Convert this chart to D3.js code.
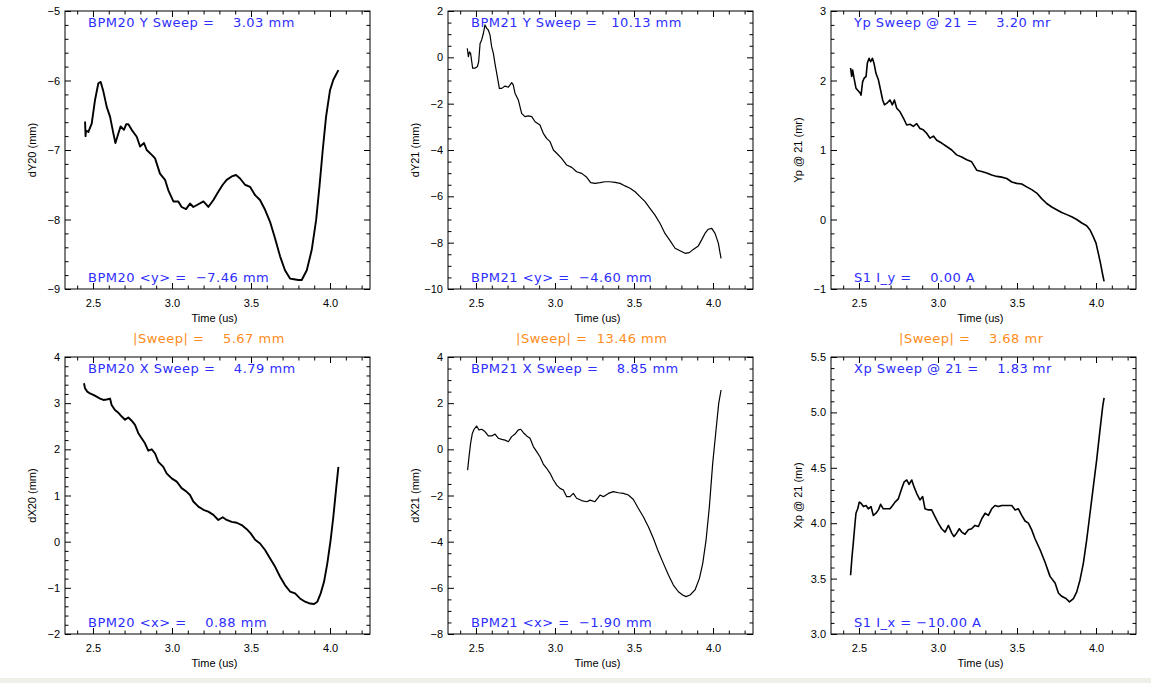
<!DOCTYPE html>
<html><head><meta charset="utf-8">
<script src="https://cdn.jsdelivr.net/npm/d3@7"></script>
<style>
body{margin:0;background:#fff}
svg{display:block}
</style>
</head><body><svg id="chart" width="1151" height="683"></svg>
<script>
// ---------------- data ----------------
const timeDomain = [2.323, 4.253];
const timeTicks = [2.5, 3.0, 3.5, 4.0];
const timeLabel = "Time (us)";

const yLabels = ["dY20 (mm)", "dY21 (mm)", "Yp @ 21 (mr)", "dX20 (mm)", "dX21 (mm)", "Xp @ 21 (mr)"];
const yDomains = [[-9, -5], [-10, 2], [-1, 3], [-2, 4], [-8, 4], [3, 5.5]];
const yMajorStep = [1, 2, 1, 1, 2, 0.5];
const yMinorStep = [0.2, 0.5, 0.2, 0.2, 0.5, 0.1];
const yTickFormat = ["d", "d", "d", "d", "d", ".1f"];

const topNotes = [
  "BPM20 Y Sweep =    3.03 mm",
  "BPM21 Y Sweep =   10.13 mm",
  "Yp Sweep @ 21 =    3.20 mr",
  "BPM20 X Sweep =    4.79 mm",
  "BPM21 X Sweep =    8.85 mm",
  "Xp Sweep @ 21 =    1.83 mr"
];
const bottomNotes = [
  "BPM20 <y> =  \u22127.46 mm",
  "BPM21 <y> =  \u22124.60 mm",
  "S1 I_y =    0.00 A",
  "BPM20 <x> =    0.88 mm",
  "BPM21 <x> =  \u22121.90 mm",
  "S1 I_x = \u221210.00 A"
];
const sweepNotes = ["|Sweep| =    5.67 mm", "|Sweep| =  13.46 mm", "|Sweep| =    3.68 mr"];

const dY20 = [[2.450,-6.59],[2.453,-6.80],[2.456,-6.72],[2.471,-6.74],[2.492,-6.62],[2.513,-6.28],[2.534,-6.04],[2.549,-6.02],[2.566,-6.16],[2.587,-6.38],[2.608,-6.52],[2.629,-6.76],[2.642,-6.90],[2.661,-6.76],[2.675,-6.66],[2.696,-6.71],[2.710,-6.63],[2.724,-6.63],[2.745,-6.71],[2.777,-6.81],[2.798,-6.95],[2.823,-6.90],[2.840,-7.00],[2.872,-7.07],[2.893,-7.12],[2.924,-7.34],[2.956,-7.43],[2.977,-7.58],[3.009,-7.74],[3.040,-7.74],[3.061,-7.82],[3.089,-7.85],[3.114,-7.77],[3.135,-7.82],[3.167,-7.78],[3.199,-7.74],[3.230,-7.82],[3.262,-7.72],[3.293,-7.60],[3.321,-7.50],[3.346,-7.43],[3.378,-7.38],[3.405,-7.36],[3.431,-7.41],[3.462,-7.50],[3.494,-7.53],[3.526,-7.65],[3.557,-7.72],[3.589,-7.86],[3.620,-8.03],[3.652,-8.27],[3.684,-8.53],[3.715,-8.73],[3.747,-8.85],[3.772,-8.86],[3.800,-8.87],[3.821,-8.87],[3.853,-8.73],[3.884,-8.44],[3.912,-8.01],[3.933,-7.53],[3.954,-7.00],[3.975,-6.52],[4.000,-6.14],[4.021,-5.99],[4.053,-5.85]];

const dY21 = [[2.445,0.39],[2.452,0.03],[2.459,0.24],[2.466,0.17],[2.479,-0.47],[2.494,-0.47],[2.509,-0.40],[2.517,-0.19],[2.526,0.60],[2.536,0.75],[2.547,1.04],[2.557,1.40],[2.568,1.25],[2.578,1.18],[2.589,0.96],[2.599,0.46],[2.610,0.17],[2.620,-0.26],[2.635,-0.83],[2.648,-1.34],[2.663,-1.34],[2.684,-1.24],[2.705,-1.29],[2.726,-1.09],[2.736,-1.19],[2.747,-1.55],[2.768,-1.84],[2.789,-2.42],[2.810,-2.56],[2.831,-2.53],[2.853,-2.56],[2.874,-2.78],[2.905,-2.92],[2.926,-3.28],[2.947,-3.50],[2.969,-3.64],[2.990,-4.00],[3.011,-4.14],[3.042,-4.36],[3.074,-4.65],[3.106,-4.75],[3.137,-4.94],[3.169,-5.01],[3.201,-5.18],[3.226,-5.41],[3.253,-5.44],[3.285,-5.41],[3.317,-5.37],[3.348,-5.37],[3.380,-5.40],[3.412,-5.44],[3.443,-5.55],[3.475,-5.65],[3.507,-5.80],[3.538,-6.01],[3.570,-6.23],[3.601,-6.52],[3.633,-6.81],[3.665,-7.17],[3.696,-7.60],[3.728,-7.91],[3.760,-8.24],[3.791,-8.35],[3.823,-8.46],[3.850,-8.43],[3.875,-8.29],[3.907,-8.14],[3.928,-7.88],[3.949,-7.60],[3.970,-7.42],[3.992,-7.38],[4.013,-7.60],[4.034,-8.03],[4.045,-8.46],[4.051,-8.68]];

const yp21 = [[2.447,2.18],[2.454,2.06],[2.460,2.15],[2.469,2.03],[2.481,1.89],[2.492,1.86],[2.507,1.82],[2.513,1.79],[2.523,1.98],[2.532,2.03],[2.545,2.06],[2.553,2.25],[2.564,2.32],[2.574,2.27],[2.585,2.32],[2.595,2.25],[2.608,2.10],[2.623,2.01],[2.637,1.86],[2.650,1.72],[2.661,1.65],[2.675,1.67],[2.696,1.72],[2.711,1.65],[2.724,1.72],[2.739,1.60],[2.760,1.55],[2.781,1.46],[2.802,1.36],[2.823,1.37],[2.844,1.34],[2.865,1.38],[2.886,1.31],[2.907,1.29],[2.928,1.24],[2.950,1.17],[2.971,1.20],[2.992,1.14],[3.023,1.10],[3.055,1.05],[3.087,1.00],[3.118,0.93],[3.150,0.90],[3.182,0.86],[3.213,0.83],[3.245,0.71],[3.277,0.69],[3.308,0.67],[3.340,0.64],[3.372,0.62],[3.403,0.61],[3.435,0.59],[3.467,0.54],[3.498,0.52],[3.530,0.51],[3.561,0.47],[3.593,0.43],[3.625,0.38],[3.656,0.30],[3.688,0.23],[3.720,0.18],[3.751,0.14],[3.783,0.10],[3.815,0.07],[3.846,0.04],[3.878,0.00],[3.910,-0.05],[3.941,-0.09],[3.962,-0.15],[3.983,-0.25],[4.000,-0.34],[4.015,-0.49],[4.030,-0.65],[4.040,-0.77],[4.051,-0.89]];

const dX20 = [[2.443,3.43],[2.450,3.32],[2.464,3.25],[2.481,3.21],[2.502,3.18],[2.523,3.14],[2.545,3.10],[2.566,3.07],[2.587,3.08],[2.608,3.10],[2.618,2.96],[2.639,2.85],[2.661,2.79],[2.682,2.71],[2.703,2.64],[2.724,2.69],[2.745,2.62],[2.766,2.53],[2.787,2.35],[2.808,2.24],[2.829,2.13],[2.850,1.97],[2.872,2.00],[2.893,1.91],[2.914,1.73],[2.945,1.62],[2.966,1.48],[2.998,1.37],[3.030,1.30],[3.061,1.16],[3.093,1.08],[3.114,1.01],[3.135,0.87],[3.167,0.76],[3.199,0.69],[3.230,0.65],[3.262,0.58],[3.293,0.47],[3.321,0.53],[3.346,0.47],[3.378,0.43],[3.410,0.41],[3.441,0.36],[3.473,0.27],[3.498,0.18],[3.526,0.04],[3.557,-0.04],[3.589,-0.18],[3.620,-0.36],[3.652,-0.54],[3.684,-0.76],[3.715,-0.94],[3.747,-1.08],[3.779,-1.12],[3.810,-1.23],[3.842,-1.30],[3.874,-1.34],[3.899,-1.35],[3.920,-1.30],[3.941,-1.12],[3.962,-0.87],[3.983,-0.47],[4.004,0.04],[4.021,0.54],[4.038,1.12],[4.053,1.62]];

const dX21 = [[2.447,-0.90],[2.456,-0.32],[2.466,0.26],[2.477,0.69],[2.488,0.87],[2.504,1.01],[2.519,0.84],[2.536,0.87],[2.557,0.77],[2.578,0.58],[2.599,0.58],[2.621,0.66],[2.642,0.48],[2.663,0.43],[2.684,0.40],[2.705,0.33],[2.726,0.55],[2.747,0.66],[2.768,0.84],[2.783,0.87],[2.800,0.72],[2.821,0.58],[2.842,0.48],[2.863,0.12],[2.884,-0.10],[2.905,-0.32],[2.926,-0.64],[2.947,-0.82],[2.969,-1.04],[2.990,-1.33],[3.011,-1.55],[3.032,-1.69],[3.053,-1.76],[3.074,-2.05],[3.095,-2.05],[3.116,-1.91],[3.137,-2.12],[3.169,-2.22],[3.201,-2.27],[3.222,-2.20],[3.253,-2.27],[3.285,-1.98],[3.306,-2.05],[3.338,-1.91],[3.369,-1.83],[3.401,-1.88],[3.433,-1.91],[3.464,-1.98],[3.496,-2.17],[3.528,-2.56],[3.559,-2.92],[3.591,-3.35],[3.623,-3.86],[3.654,-4.43],[3.686,-4.94],[3.718,-5.44],[3.749,-5.88],[3.781,-6.17],[3.808,-6.31],[3.829,-6.38],[3.855,-6.31],[3.886,-6.09],[3.914,-5.59],[3.935,-4.94],[3.956,-3.93],[3.977,-2.48],[3.998,-0.61],[4.019,0.84],[4.036,1.99],[4.051,2.57]];

const xp21 = [[2.447,3.53],[2.456,3.70],[2.464,3.82],[2.475,4.00],[2.481,4.09],[2.492,4.13],[2.502,4.19],[2.513,4.18],[2.528,4.15],[2.545,4.16],[2.559,4.13],[2.576,4.15],[2.591,4.07],[2.608,4.09],[2.623,4.12],[2.637,4.17],[2.654,4.13],[2.675,4.13],[2.696,4.13],[2.713,4.16],[2.728,4.19],[2.749,4.22],[2.770,4.31],[2.785,4.37],[2.802,4.39],[2.817,4.35],[2.834,4.39],[2.848,4.33],[2.865,4.27],[2.886,4.21],[2.903,4.24],[2.918,4.13],[2.939,4.12],[2.960,4.12],[2.981,4.06],[3.002,4.00],[3.023,3.95],[3.045,3.92],[3.066,3.98],[3.087,3.91],[3.101,3.88],[3.118,3.91],[3.135,3.95],[3.150,3.92],[3.171,3.90],[3.192,3.94],[3.213,3.95],[3.234,3.98],[3.256,3.97],[3.277,4.04],[3.298,4.09],[3.319,4.07],[3.340,4.13],[3.361,4.16],[3.382,4.15],[3.403,4.16],[3.435,4.16],[3.467,4.16],[3.488,4.12],[3.509,4.13],[3.530,4.07],[3.551,4.02],[3.572,4.00],[3.593,3.94],[3.614,3.86],[3.646,3.76],[3.677,3.65],[3.709,3.52],[3.741,3.46],[3.762,3.37],[3.783,3.34],[3.810,3.32],[3.832,3.29],[3.857,3.32],[3.878,3.38],[3.899,3.49],[3.920,3.64],[3.941,3.85],[3.962,4.09],[3.983,4.33],[4.004,4.57],[4.025,4.84],[4.042,5.05],[4.051,5.13]];

const seriesList = [dY20, dY21, yp21, dX20, dX21, xp21];

// ---------------- layout ----------------
const colLeft = [65, 448, 831];
const rowTop = [11, 357];
const plotW = 305;
const lineWidths = [1.9, 1.2, 1.6, 1.9, 1.2, 1.6];
const blue = "#2d2dff", orange = "#ff8c1a";
const noteFont = '"DejaVu Sans", sans-serif';
const tickFont = '"Liberation Sans", Arial, sans-serif';

const svg = d3.select("#chart");
svg.append("rect").attr("width", 1151).attr("height", 683).attr("fill", "#fff");
svg.append("rect").attr("x", 0).attr("y", 678).attr("width", 1151).attr("height", 5).attr("fill", "#efeee7");

function range(lo, hi, step) {
  const n = Math.round((hi - lo) / step);
  return d3.range(n + 1).map(i => +(lo + i * step).toFixed(6));
}

seriesList.forEach((data, i) => {
  const col = i % 3, row = Math.floor(i / 3);
  const x0 = colLeft[col], y0 = rowTop[row];
  const h = row === 0 ? 278 : 277;
  const g = svg.append("g").attr("transform", `translate(${x0},${y0})`);

  const x = d3.scaleLinear().domain(timeDomain).range([0, plotW]);
  const y = d3.scaleLinear().domain(yDomains[i]).range([h, 0]);

  const xMinor = range(2.4, 4.2, 0.1).filter(v => !timeTicks.some(t => Math.abs(t - v) < 1e-6));
  const yMaj = range(yDomains[i][0], yDomains[i][1], yMajorStep[i]);
  const yMin = range(yDomains[i][0], yDomains[i][1], yMinorStep[i]).filter(v => !yMaj.some(t => Math.abs(t - v) < 1e-6));

  const styleAxis = sel => {
    sel.select(".domain").remove();
    sel.selectAll(".tick line").attr("stroke", "#000").attr("stroke-width", 1);
    sel.selectAll("text").attr("font-family", tickFont).attr("font-size", 11).attr("fill", "#000");
  };

  // bottom
  g.append("g").attr("transform", `translate(0,${h})`)
    .call(d3.axisBottom(x).tickValues(timeTicks).tickSizeInner(-6).tickSizeOuter(0).tickPadding(10).tickFormat(d3.format(".1f")))
    .call(styleAxis);
  g.append("g").attr("transform", `translate(0,${h})`)
    .call(d3.axisBottom(x).tickValues(xMinor).tickSize(-3.5).tickFormat(""))
    .call(styleAxis);
  // top
  g.append("g").call(d3.axisTop(x).tickValues(timeTicks).tickSize(-6).tickFormat("")).call(styleAxis);
  g.append("g").call(d3.axisTop(x).tickValues(xMinor).tickSize(-3.5).tickFormat("")).call(styleAxis);
  // left
  g.append("g")
    .call(d3.axisLeft(y).tickValues(yMaj).tickSizeInner(-6).tickSizeOuter(0).tickPadding(5).tickFormat(d3.format(yTickFormat[i])))
    .call(styleAxis);
  g.append("g").call(d3.axisLeft(y).tickValues(yMin).tickSize(-3.5).tickFormat("")).call(styleAxis);
  // right
  g.append("g").attr("transform", `translate(${plotW},0)`)
    .call(d3.axisRight(y).tickValues(yMaj).tickSize(-6).tickFormat("")).call(styleAxis);
  g.append("g").attr("transform", `translate(${plotW},0)`)
    .call(d3.axisRight(y).tickValues(yMin).tickSize(-3.5).tickFormat("")).call(styleAxis);

  // frame
  g.append("rect").attr("width", plotW).attr("height", h)
    .attr("fill", "none").attr("stroke", "#000").attr("stroke-width", 1);

  // data line
  g.append("path").datum(data)
    .attr("d", d3.line().x(d => x(d[0])).y(d => y(d[1])))
    .attr("fill", "none").attr("stroke", "#000").attr("stroke-width", lineWidths[i])
    .attr("stroke-linejoin", "round");

  // axis titles
  g.append("text").attr("x", plotW / 2 - 3).attr("y", h + 33)
    .attr("text-anchor", "middle").attr("font-family", tickFont).attr("font-size", 11)
    .text(timeLabel);
  g.append("text").attr("transform", `translate(${-29},${h / 2}) rotate(-90)`)
    .attr("text-anchor", "middle").attr("font-family", tickFont).attr("font-size", 11)
    .text(yLabels[i]);

  // notes
  const note = (txt, tx, ty, color) => g.append("text")
    .attr("x", tx).attr("y", ty)
    .attr("xml:space", "preserve").style("white-space", "pre")
    .attr("font-family", noteFont).attr("font-size", 13).attr("letter-spacing", 0.5)
    .attr("fill", color).text(txt);
  note(topNotes[i], 23, 16, blue);
  note(bottomNotes[i], 23, h - 7, blue);
  if (row === 1) note(sweepNotes[col], 68, -14, orange);
});
</script>
</body></html>
